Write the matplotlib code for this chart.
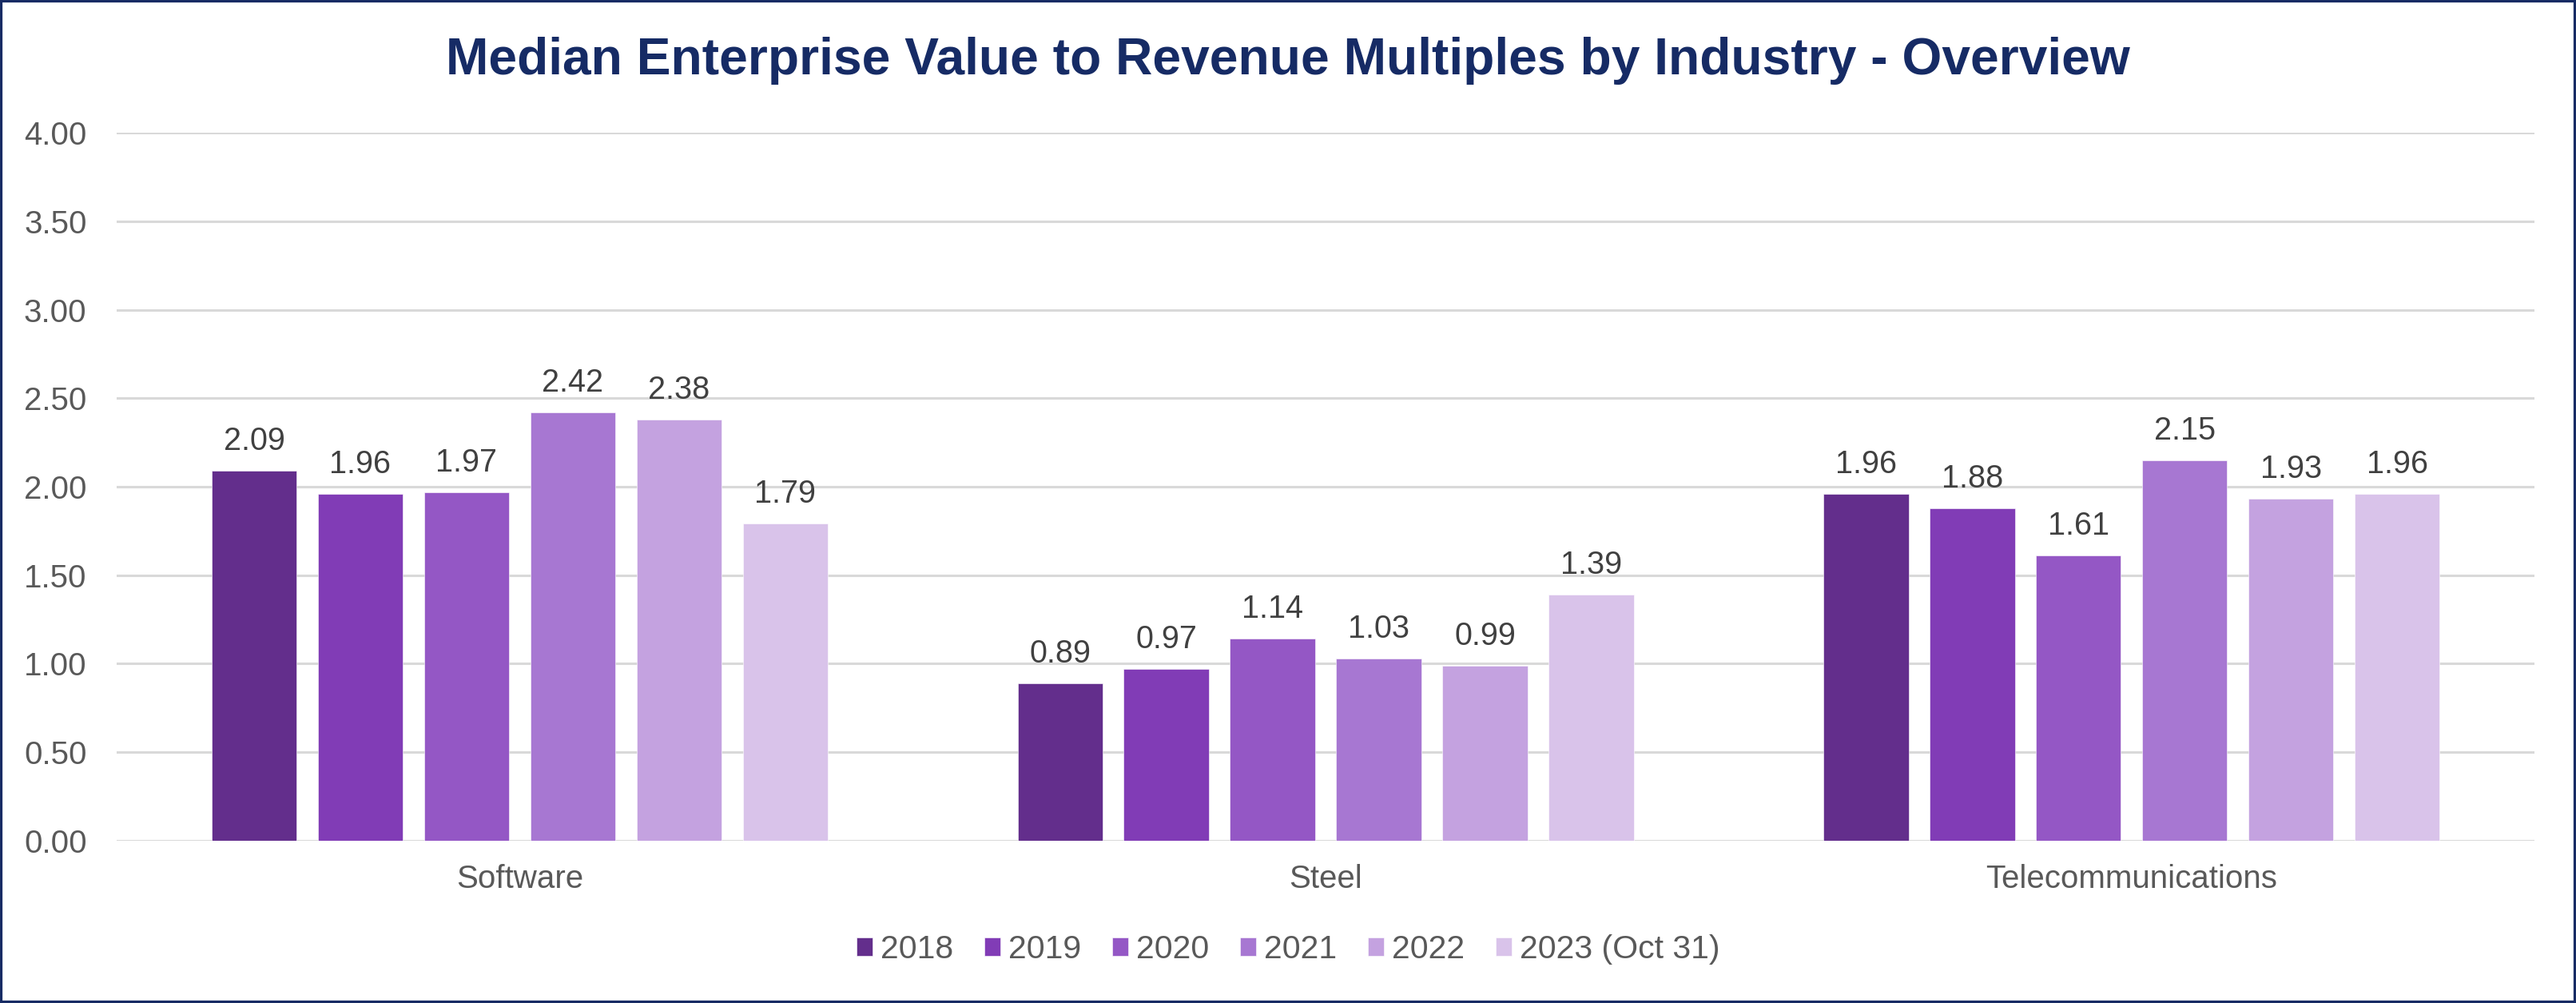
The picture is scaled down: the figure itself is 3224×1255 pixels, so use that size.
import numpy as np
import matplotlib.pyplot as plt
from matplotlib.patches import Rectangle

# data
industries = ["Software", "Steel", "Telecommunications"]
years = ["2018", "2019", "2020", "2021", "2022", "2023 (Oct 31)"]
v2018 = [2.09, 0.89, 1.96]
v2019 = [1.96, 0.97, 1.88]
v2020 = [1.97, 1.14, 1.61]
v2021 = [2.42, 1.03, 2.15]
v2022 = [2.38, 0.99, 1.93]
v2023 = [1.79, 1.39, 1.96]
colores = ["#632E8C", "#813CB6", "#9457C5", "#A777D2", "#C4A2E0", "#D9C3EA"]

plt.rcParams['font.family'] = ['Liberation Sans', 'DejaVu Sans']

fig = plt.figure(figsize=(32.24, 12.55), dpi=100)
ax = fig.add_axes([0.0453, 0.1618, 0.9386, 0.7059])

x = np.arange(len(industries))
paso = 0.1318
ancho = 0.1055
series = [v2018, v2019, v2020, v2021, v2022, v2023]

for i, (vals, anio, col) in enumerate(zip(series, years, colores)):
    desp = (i - 2.5) * paso
    barras = ax.bar(x + desp, vals, ancho, color=col, label=anio,
                    edgecolor='white', linewidth=0.4, zorder=3)
    ax.bar_label(barras, labels=[f"{v:.2f}" for v in vals], padding=13,
                 fontsize=28.5, color='#404040')

ax.set_xlim(-0.5, 2.5)
ax.set_ylim(0, 4)
ax.set_yticks(np.arange(0, 4.01, 0.5))
ax.set_yticklabels([f"{t:.2f}" for t in np.arange(0, 4.01, 0.5)])
ax.set_xticks(x)
ax.set_xticklabels(industries)
ax.tick_params(axis='both', length=0, labelsize=29, labelcolor='#595959')
ax.tick_params(axis='x', pad=21)
ax.tick_params(axis='y', pad=27)
ax.grid(axis='y', color='#D9D9D9', linewidth=2.2, zorder=0)
for s in ax.spines.values():
    s.set_visible(False)

fig.text(0.5, 0.9394, "Median Enterprise Value to Revenue Multiples by Industry - Overview",
         ha='center', va='center', fontsize=46.2, fontweight='bold', color='#162B65')

fig.legend(loc='center', bbox_to_anchor=(0.5, 0.0534), ncol=6, frameon=False,
           fontsize=29.5, labelcolor='#595959', handlelength=0.49, handleheight=0.49,
           handletextpad=0.24, columnspacing=0.95)

# borde azul oscuro alrededor de la figura
fig.patches.append(Rectangle((0, 0), 1, 1, transform=fig.transFigure, fill=False,
                             edgecolor='#172B64', linewidth=4.5))

fig.savefig("out.png", dpi=100)
